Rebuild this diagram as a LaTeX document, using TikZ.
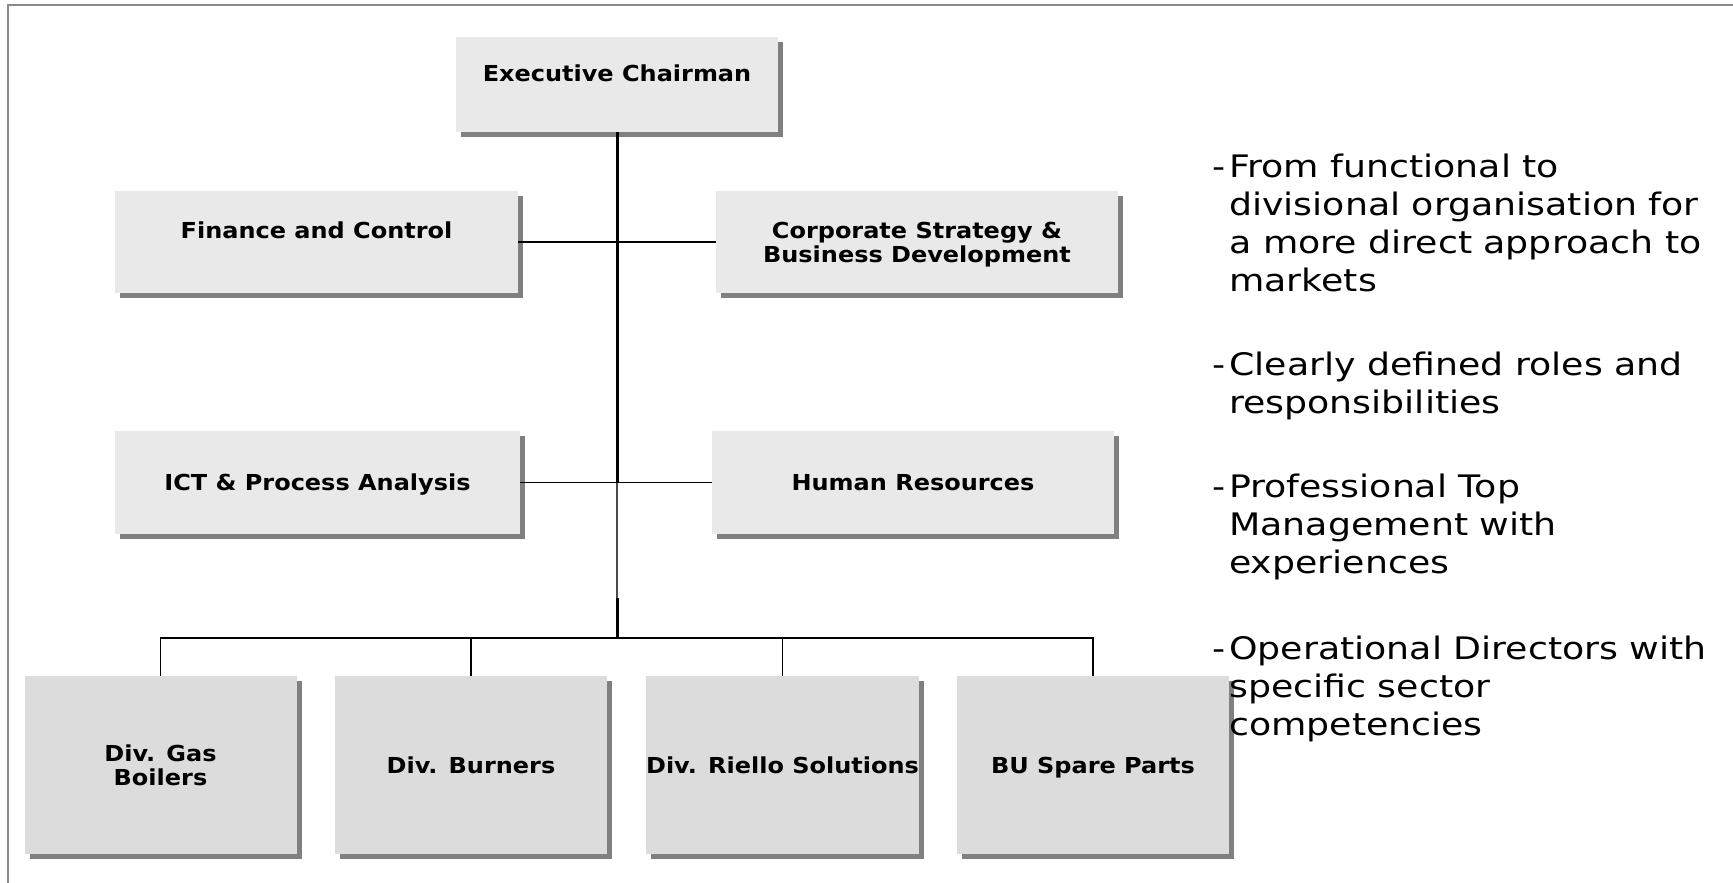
\documentclass[tikz,border=0pt]{standalone}
\usepackage{fontspec}
\setmainfont{DejaVu Sans}
\newfontfamily\boxfont[FakeStretch=1.09]{DejaVu Sans}
\newfontfamily\notefont[FakeStretch=1.17]{DejaVu Sans}
\usetikzlibrary{shadows}
\definecolor{boxlight}{HTML}{E9E9E9}
\definecolor{boxdark}{HTML}{DCDCDC}
\definecolor{shadowgray}{HTML}{808080}
\definecolor{framegray}{HTML}{8A8A8A}
\tikzset{
  x=1pt, y=-1pt,
  orgbox/.style={rectangle, fill=boxlight, draw=none, inner sep=0pt,
    align=center, font=\boxfont\fontsize{22}{24}\selectfont\bfseries,
    drop shadow={shadow xshift=5pt, shadow yshift=-5pt, fill=shadowgray, opacity=1}},
  divbox/.style={orgbox, fill=boxdark, minimum width=272pt, minimum height=178pt},
  boxtext/.style={font=\boxfont\fontsize{22}{24}\selectfont\bfseries, inner sep=0pt},
  mainline/.style={line width=3pt, black},
  thinline/.style={line width=1.6pt, black},
  notetext/.style={anchor=north west, inner sep=0pt,
    font=\notefont\fontsize{31}{38}\selectfont},
}
% key point: hyphen in its own column, wrapped lines indented after it
\newcommand{\keypoint}[1]{\begin{tabular}{@{}l@{\hspace{4pt}}l@{}}#1\end{tabular}}
% a line set without descender depth, so box labels centre on their baseline
\newcommand{\nodepth}[1]{\raisebox{0pt}[\height][0pt]{#1}}
\begin{document}
\begin{tikzpicture}
\useasboundingbox (0,0) rectangle (1733,883);
\fill[white] (0,0) rectangle (1733,883);
% frame
\draw[framegray, line width=2.5pt] (8,883) -- (8,5) -- (1733,5);

% staff boxes
\node[orgbox, minimum width=322pt, minimum height=95pt,
  label={[boxtext, yshift=11pt]center:Executive Chairman}] (exec) at (617,84.5) {};
\node[orgbox, minimum width=403pt, minimum height=102pt,
  label={[boxtext, yshift=12pt]center:Finance and Control}] (fin) at (316.5,242) {};
\node[orgbox, minimum width=402pt, minimum height=102pt] (corp) at (917,242)
  {Corporate Strategy \&\\\nodepth{Business Development}};
\node[orgbox, minimum width=405pt, minimum height=103pt] (ict) at (317.5,482.5)
  {\nodepth{ICT \& Process Analysis}};
\node[orgbox, minimum width=402pt, minimum height=103pt] (hr) at (913,482.5)
  {Human Resources};

% divisions
\node[divbox] (gas) at (160.5,765) {Div. Gas\\Boilers};
\node[divbox] (burn) at (471,765) {Div. Burners};
\node[divbox] (riel) at (782.5,765) {Div. Riello Solutions};
\node[divbox] (bu) at (1093,765) {\nodepth{BU Spare Parts}};

% connectors
\coordinate (bus) at (617,638);
\draw[thinline] (fin.east) -- (corp.west);
\draw[thinline] (ict.east) -- (hr.west);
\draw[mainline] (exec.south) -- (exec.south |- hr.west);
\draw[line width=2pt, black!70] (exec.south |- hr.west) -- (617,598);
\draw[mainline] (617,598) -- (bus);
\draw[thinline] (gas.north) -- (gas.north |- bus) -- (bu.north |- bus) -- (bu.north);
\draw[thinline] (burn.north) -- (burn.north |- bus);
\draw[thinline] (riel.north) -- (riel.north |- bus);

% key points
\node[notetext] (t1) at (1212,150.4) {\keypoint{-&From functional to\\&divisional organisation for\\&a more direct approach to\\&markets}};
\node[notetext] (t2) at (1212,348.4) {\keypoint{-&Clearly defined roles and\\&responsibilities}};
\node[notetext] (t3) at (1212,470.4) {\keypoint{-&Professional Top\\&Management with\\&experiences}};
\node[notetext] (t4) at (1212,632.4) {\keypoint{-&Operational Directors with\\&specific sector\\&competencies}};
\end{tikzpicture}
\end{document}
